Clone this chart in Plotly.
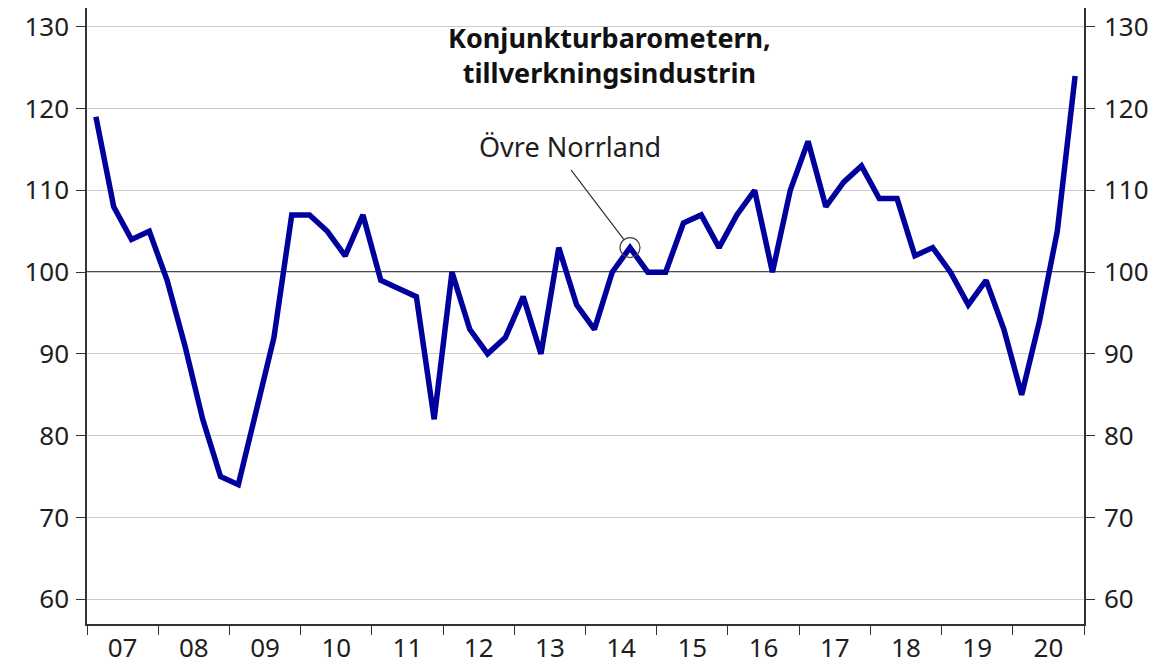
import plotly.graph_objects as go

# Quarterly data, 2007 Q1 – 2020 Q4
years = ["07", "08", "09", "10", "11", "12", "13", "14", "15", "16", "17", "18", "19", "20"]
values = [
    119, 108, 104, 105,   # 2007
    99, 91, 82, 75,       # 2008
    74, 83, 92, 107,      # 2009
    107, 105, 102, 107,   # 2010
    99, 98, 97, 82,       # 2011
    100, 93, 90, 92,      # 2012
    97, 90, 103, 96,      # 2013
    93, 100, 103, 100,    # 2014
    100, 106, 107, 103,   # 2015
    107, 110, 100, 110,   # 2016
    116, 108, 111, 113,   # 2017
    109, 109, 102, 103,   # 2018
    100, 96, 99, 93,      # 2019
    85, 94, 105, 124,     # 2020
]
y_ticks = [60, 70, 80, 90, 100, 110, 120, 130]
highlight_index = 30  # 2014 Q3
highlight_label = "Övre Norrland"
title_text = "Konjunkturbarometern,<br>tillverkningsindustrin"

x_pos = [i + 0.5 for i in range(len(values))]
year_centers = [4 * i + 2 for i in range(len(years))]
year_bounds = [4 * i for i in range(len(years) + 1)]

y_range = [56.96, 132.31]
x_range = [0, 4 * len(years)]

font_family = "Noto Sans, Open Sans, sans-serif"
axis_color = "#333333"
text_color = "#1e1e1e"

fig = go.Figure()
fig.add_trace(go.Scatter(
    x=x_pos, y=values, mode="lines",
    line=dict(color="#00009c", width=5.5),
    hoverinfo="skip", showlegend=False,
))
fig.add_trace(go.Scatter(
    x=[x_pos[highlight_index]], y=[values[highlight_index]], mode="markers",
    marker=dict(size=20, color="rgba(255,255,255,0)", line=dict(color="#444444", width=1.2)),
    hoverinfo="skip", showlegend=False,
))
# invisible trace for right axis
fig.add_trace(go.Scatter(
    x=[x_pos[0]], y=[values[0]], yaxis="y2", mode="markers",
    marker=dict(opacity=0), hoverinfo="skip", showlegend=False,
))

fig.add_shape(type="line", xref="paper", x0=0, x1=1, yref="y", y0=100, y1=100,
              line=dict(color="#111111", width=1.7), layer="between")

# leader line
fig.add_annotation(
    x=x_pos[highlight_index], y=values[highlight_index],
    text="", showarrow=True, arrowhead=0, arrowwidth=1.2,
    arrowcolor="#333333", ax=-60, ay=-79, standoff=10,
)
# label
fig.add_annotation(
    x=x_pos[highlight_index], y=values[highlight_index],
    text=highlight_label, showarrow=False, xshift=-60, yshift=101,
    font=dict(family=font_family, size=27, color=text_color),
)
fig.add_annotation(
    xref="paper", yref="paper", x=0.524, y=0.986, xanchor="center", yanchor="top",
    text="<b>" + title_text + "</b>", showarrow=False, align="center",
    font=dict(family=font_family, size=27, color="#111111"),
)

tick_font = dict(family=font_family, size=26, color=text_color)
fig.update_layout(
    width=1166, height=657,
    margin=dict(l=79, r=90, t=0, b=38),
    paper_bgcolor="white", plot_bgcolor="white",
    xaxis=dict(
        range=x_range, tickmode="array", tickvals=year_centers, ticktext=years,
        ticks="", showgrid=False, zeroline=False,
        showline=True, linecolor=axis_color, linewidth=1.5,
        tickfont=tick_font,
        minor=dict(tickmode="array", tickvals=year_bounds, ticks="outside",
                   ticklen=9, tickcolor=axis_color, tickwidth=1.3, showgrid=False),
    ),
    yaxis=dict(
        range=y_range, tickmode="array", tickvals=y_ticks,
        ticks="outside", ticklen=9, tickcolor=axis_color, tickwidth=1.3,
        showgrid=True, gridcolor="#cccccc", gridwidth=1.2, zeroline=False,
        showline=True, linecolor=axis_color, linewidth=1.5,
        tickfont=tick_font, ticklabelstandoff=2, ticklabeloverflow="allow",
    ),
    yaxis2=dict(
        range=y_range, tickmode="array", tickvals=y_ticks, overlaying="y", side="right",
        ticks="outside", ticklen=9, tickcolor=axis_color, tickwidth=1.3,
        showgrid=False, zeroline=False,
        showline=True, linecolor=axis_color, linewidth=1.5,
        tickfont=tick_font, ticklabelstandoff=4, ticklabeloverflow="allow",
    ),
)

fig.write_html("out.html")
